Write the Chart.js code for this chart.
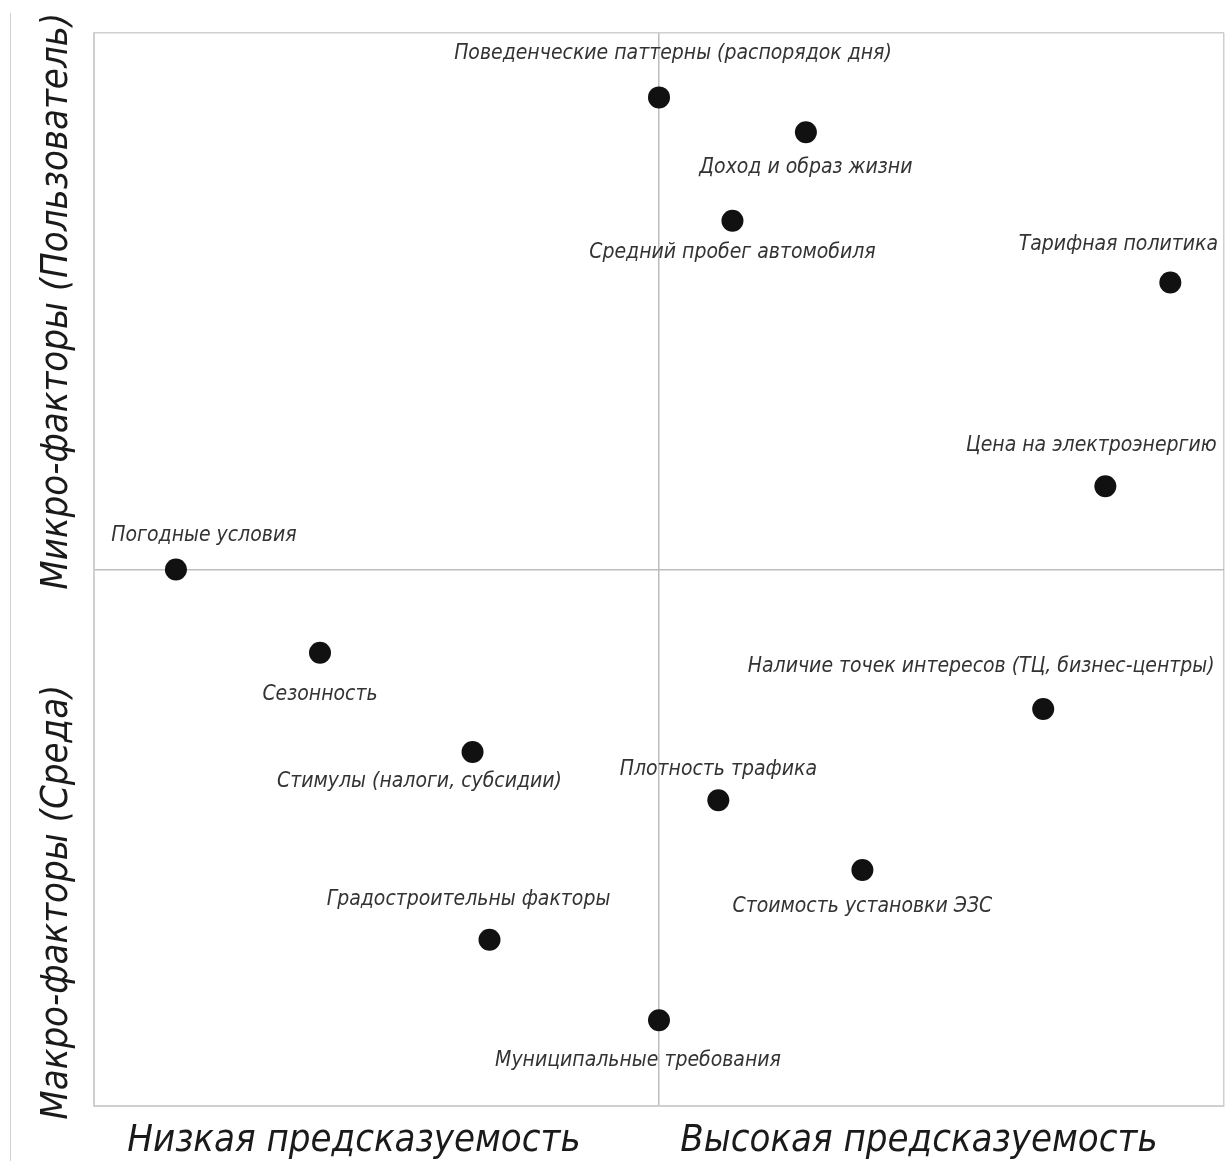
<!DOCTYPE html>
<html>
<head>
<meta charset="utf-8">
<script src="https://cdn.jsdelivr.net/npm/chart.js@4/dist/chart.umd.min.js"></script>
<style>
  html, body { margin: 0; padding: 0; background: #fff; overflow: hidden; }
  #wrap { position: relative; width: 1228px; height: 1161px; overflow: hidden; }
  #matrix { display: block; }
  #edge { position: absolute; left: 10px; top: 13px; bottom: 0; border-left: 1px solid #d0d0d0; }
</style>
</head>
<body>
<div id="wrap">
  <div id="edge"></div>
  <canvas id="matrix" width="1235" height="1161"></canvas>
</div>
<script>
// Factors and their position on the matrix
const factors = [
    'Поведенческие паттерны (распорядок дня)',
    'Доход и образ жизни',
    'Средний пробег автомобиля',
    'Тарифная политика',
    'Цена на электроэнергию',
    'Погодные условия',
    'Сезонность',
    'Наличие точек интересов (ТЦ, бизнес-центры)',
    'Стимулы (налоги, субсидии)',
    'Плотность трафика',
    'Стоимость установки ЭЗС',
    'Градостроительны факторы',
    'Муниципальные требования'
];
// x: predictability (-10 low .. 10 high)
const predictability = [0, 2.6, 1.3, 9.05, 7.9, -8.55, -6.0, 6.8, -3.3, 1.05, 3.6, -3.0, 0];
// y: micro (user) > 0, macro (environment) < 0
const scope = [8.8, 8.15, 6.5, 5.35, 1.55, 0, -1.55, -2.6, -3.4, -4.3, -5.6, -6.9, -8.4];

// axis texts
const xTickValues = [-10, -5.4, 0, 4.6, 10];
const xTickLabels = ['', 'Низкая предсказуемость', '', 'Высокая предсказуемость', ''];
const yTickValues = [-10, 0, 10];
const yTitleValues = [5, -6.2];
const yTitleLabels = ['Микро-факторы (Пользователь)', 'Макро-факторы (Среда)'];

// where each label sits relative to its point (px)
const labelLayout = [
    { dx: 14, dy: -44 },
    { dx: 0, dy: 35 },
    { dx: 0, dy: 32 },
    { dx: -52, dy: -38 },
    { dx: -14, dy: -41 },
    { dx: 28, dy: -34 },
    { dx: 0, dy: 42 },
    { dx: -62, dy: -42 },
    { dx: -53, dy: 30 },
    { dx: 0, dy: -31 },
    { dx: 0, dy: 37 },
    { dx: -21, dy: -40 },
    { dx: -21, dy: 40 }
];

const FONT = "'Liberation Sans Narrow', 'DejaVu Sans Condensed', sans-serif";
const FRAME = '#cfcfcf';
const CENTER = '#bdbdbd';

const pointLabels = {
    id: 'pointLabels',
    afterDatasetsDraw(chart) {
        const ctx = chart.ctx;
        const meta = chart.getDatasetMeta(0);
        ctx.save();
        ctx.font = 'italic 21px ' + FONT;
        ctx.fillStyle = '#333';
        ctx.textAlign = 'center';
        ctx.textBaseline = 'middle';
        meta.data.forEach(function(pt, i) {
            const l = labelLayout[i];
            ctx.fillText(factors[i], pt.x + l.dx, pt.y + l.dy);
        });
        ctx.restore();
    }
};

const yTitles = {
    id: 'yTitles',
    afterDraw(chart) {
        const ctx = chart.ctx;
        const y = chart.scales.y;
        ctx.save();
        ctx.font = 'italic 38px ' + FONT;
        ctx.fillStyle = '#1a1a1a';
        ctx.textAlign = 'center';
        ctx.textBaseline = 'middle';
        yTitleValues.forEach(function(v, i) {
            ctx.save();
            ctx.translate(57, y.getPixelForValue(v));
            ctx.rotate(-Math.PI / 2);
            ctx.fillText(yTitleLabels[i], 0, 0);
            ctx.restore();
        });
        ctx.restore();
    }
};

function gridColor(c) {
    if (c.tick.value === 0) return CENTER;
    if (c.tick.value === 10) return FRAME;
    return 'rgba(0,0,0,0)';
}

document.addEventListener('DOMContentLoaded', function() {
    const ctx = document.getElementById('matrix').getContext('2d');
    new Chart(ctx, {
        type: 'scatter',
        data: {
            datasets: [{
                data: predictability.map(function(x, i) { return { x: x, y: scope[i] }; }),
                backgroundColor: '#111',
                borderWidth: 0,
                pointRadius: 11,
                pointHoverRadius: 11
            }]
        },
        options: {
            responsive: false,
            devicePixelRatio: 1,
            animation: false,
            layout: { padding: { top: 33, right: 4, left: 0, bottom: 0 } },
            plugins: {
                legend: { display: false },
                tooltip: { enabled: false }
            },
            scales: {
                x: {
                    type: 'linear',
                    min: -10,
                    max: 10,
                    afterBuildTicks: function(s) {
                        s.ticks = xTickValues.map(function(v) { return { value: v }; });
                    },
                    afterFit: function(s) {
                        s.height = 55;
                        s.paddingLeft = 0;
                        s.paddingRight = 0;
                    },
                    ticks: {
                        autoSkip: false,
                        maxRotation: 0,
                        padding: 12,
                        color: '#1a1a1a',
                        font: { family: FONT, size: 38, style: 'italic' },
                        callback: function(v) {
                            const i = xTickValues.indexOf(v);
                            return i >= 0 ? xTickLabels[i] : '';
                        }
                    },
                    grid: { drawTicks: false, lineWidth: 1.5, color: gridColor },
                    border: { display: true, color: FRAME, width: 2 }
                },
                y: {
                    type: 'linear',
                    min: -10,
                    max: 10,
                    afterBuildTicks: function(s) {
                        s.ticks = yTickValues.map(function(v) { return { value: v }; });
                    },
                    afterFit: function(s) {
                        s.width = 94;
                        s.paddingTop = 0;
                        s.paddingBottom = 0;
                    },
                    ticks: { display: false },
                    grid: { drawTicks: false, lineWidth: 1.5, color: gridColor },
                    border: { display: true, color: FRAME, width: 2 }
                }
            }
        },
        plugins: [pointLabels, yTitles]
    });
});
</script>
</body>
</html>
